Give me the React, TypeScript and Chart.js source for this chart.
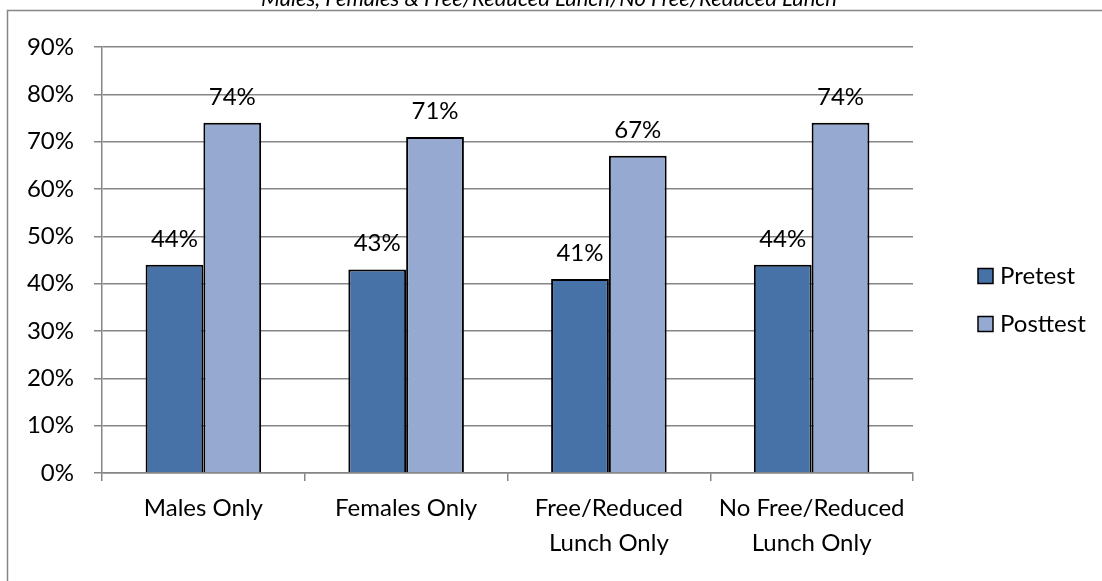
import React, { useEffect, useRef } from "react";
import { Chart, registerables } from "chart.js";

Chart.register(...registerables);

const categories: (string | string[])[] = [
  "Males Only",
  "Females Only",
  ["Free/Reduced", "Lunch Only"],
  ["No Free/Reduced", "Lunch Only"],
];
const pretest = [44, 43, 41, 44];
const posttest = [74, 71, 67, 74];
const seriesNames = ["Pretest", "Posttest"];
const seriesColors = ["#4672A8", "#95A9D1"];
const yTicks = [0, 10, 20, 30, 40, 50, 60, 70, 80, 90];
const chartTitle = "Males, Females & Free/Reduced Lunch/No Free/Reduced Lunch";

const FONT = "Lato, 'Open Sans', sans-serif";
const FS = 24;

const decorPlugin = {
  id: "decor",
  afterDraw(chart: any) {
    const ctx = chart.ctx;
    ctx.save();
    // frame (partially visible)
    ctx.strokeStyle = "#868686";
    ctx.lineWidth = 1.5;
    ctx.beginPath();
    ctx.moveTo(7.5, 590);
    ctx.lineTo(7.5, 10.5);
    ctx.lineTo(1110, 10.5);
    ctx.stroke();
    // title (cut off at top)
    ctx.fillStyle = "#000";
    ctx.font = `italic 22px ${FONT}`;
    ctx.textAlign = "center";
    ctx.textBaseline = "alphabetic";
    ctx.fillText(chartTitle, 549, 6);
    // data labels
    ctx.font = `${FS}px ${FONT}`;
    ctx.textAlign = "center";
    chart.data.datasets.forEach((ds: any, i: number) => {
      const meta = chart.getDatasetMeta(i);
      meta.data.forEach((bar: any, j: number) => {
        ctx.fillText(`${ds.data[j]}%`, bar.x, bar.y - 18);
      });
    });
    // legend
    ctx.textAlign = "left";
    ctx.textBaseline = "middle";
    chart.data.datasets.forEach((ds: any, i: number) => {
      const y = 276 + i * 48;
      ctx.fillStyle = ds.backgroundColor;
      ctx.fillRect(978, y - 7.5, 15, 15);
      ctx.strokeStyle = "#000";
      ctx.lineWidth = 1.5;
      ctx.strokeRect(978, y - 7.5, 15, 15);
      ctx.fillStyle = "#000";
      ctx.fillText(ds.label, 1000, y);
    });
    ctx.restore();
  },
};

export default function App() {
  const ref = useRef<HTMLCanvasElement>(null);
  useEffect(() => {
    document.body.style.margin = "0";
    const chart = new Chart(ref.current!, {
      type: "bar",
      data: {
        labels: categories,
        datasets: [
          {
            label: seriesNames[0],
            data: pretest,
            backgroundColor: seriesColors[0],
            borderColor: "#000",
            borderWidth: 2,
            categoryPercentage: 0.57,
            barPercentage: 1,
          },
          {
            label: seriesNames[1],
            data: posttest,
            backgroundColor: seriesColors[1],
            borderColor: "#000",
            borderWidth: 2,
            categoryPercentage: 0.57,
            barPercentage: 1,
          },
        ],
      },
      options: {
        animation: false,
        responsive: false,
        events: [],
        layout: { padding: { left: 0, right: 189, top: 47, bottom: 0 } },
        plugins: {
          legend: { display: false },
          title: { display: false },
          tooltip: { enabled: false },
        },
        scales: {
          x: {
            grid: {
              offset: true,
              drawOnChartArea: false,
              tickLength: 8,
              color: "#868686",
              lineWidth: 1.5,
            },
            border: { color: "#868686", width: 1.5 },
            ticks: {
              color: "#000",
              padding: 10,
              maxRotation: 0,
              autoSkip: false,
              font: { family: FONT, size: FS, lineHeight: 35 / FS },
            },
            afterFit(scale: any) {
              scale.height = 581 - 473;
            },
          },
          y: {
            min: 0,
            max: 90,
            afterBuildTicks(scale: any) {
              scale.ticks = yTicks.map((v) => ({ value: v }));
            },
            grid: { color: "#868686", lineWidth: 1.5, tickLength: 8 },
            border: { color: "#868686", width: 1.5 },
            ticks: {
              color: "#000",
              padding: 20,
              font: { family: FONT, size: FS },
              callback: (v: any) => `${v}%`,
            },
            afterFit(scale: any) {
              scale.width = 102;
            },
          },
        },
      },
      plugins: [decorPlugin],
    });
    return () => chart.destroy();
  }, []);
  return (
    <div style={{ position: "fixed", left: 0, top: 0, width: 1102, height: 581, background: "#fff" }}>
      <canvas ref={ref} width={1102} height={581} style={{ width: 1102, height: 581 }} />
    </div>
  );
}
